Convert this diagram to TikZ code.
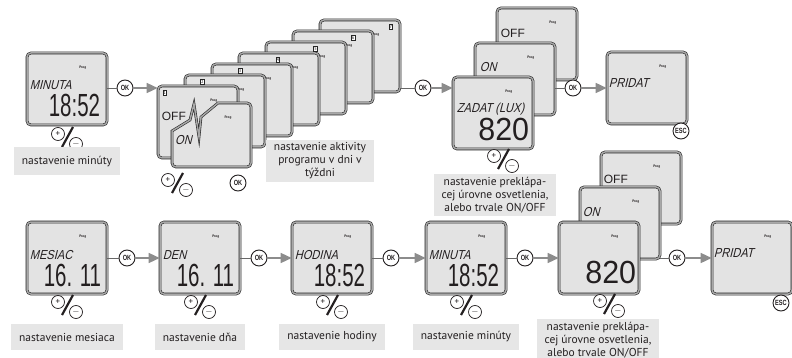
\documentclass[tikz,border=0pt]{standalone}
\usepackage{fontspec}
\usepackage{graphicx}
\setmainfont{PT Sans}
\newfontfamily\lcdfont{Liberation Sans}
\newfontfamily\lcdword{Liberation Sans}[FakeStretch=0.85,FakeSlant=0.25]
\newfontfamily\keyfont{Liberation Sans}[FakeStretch=0.75]
\usepackage{tikz}
\usetikzlibrary{positioning,arrows.meta,calc}
\definecolor{lcdfill}{HTML}{E3E3E3}
\definecolor{lcdedge}{HTML}{262626}
\definecolor{lcdband}{HTML}{A8A8A8}
\definecolor{capfill}{HTML}{E6E6E6}
\definecolor{flow}{HTML}{8C8C8C}
\definecolor{ink}{HTML}{231F20}

% one display, with its small "Prog" mark
\newcommand{\lcdbox}[2]{%
  \node[screen] (#1) at (#2) {};
  \node[prog] (#1-prog) at ($(#1.north west)+(56,15)$) {Prog};
}
% the +/- keys under a display
\newcommand{\pmkey}[2]{%
  \draw[line width=2.2pt, ink] ($(#2)+(-5,10)$) -- ($(#2)+(6,-10)$);
  \node[key] (#1-p) at ($(#2)+(-9,-3)$) {+};
  \node[key] (#1-m) at ($(#2)+(9,7)$) {$-$};
}
% narrow segment-like numbers
\newcommand{\lcdnum}[2][0.64]{\scalebox{#1}[1]{#2}}

\begin{document}
\begin{tikzpicture}[x=1pt, y=-1pt,
  every node/.style={text=ink},
  panel/.style={draw=lcdedge, double=lcdband, double distance=1.5pt, line width=0.6pt,
    fill=lcdfill, rounded corners=4pt},
  screen/.style={panel, minimum width=80pt, minimum height=72pt, inner sep=0pt},
  prog/.style={font=\bfseries\fontsize{3.5}{4}\selectfont, inner sep=0pt},
  daymark/.style={draw=lcdedge, fill=white, line width=0.5pt, inner sep=0.6pt,
    font=\fontsize{4.5}{4.5}\selectfont},
  word/.style={font=\lcdword\fontsize{13}{13}\selectfont, anchor=west, inner sep=0pt},
  lcdtext/.style={font=\lcdfont\fontsize{12}{12}\selectfont, anchor=west, inner sep=0pt},
  digits/.style={font=\lcdfont\fontsize{32}{32}\selectfont, anchor=east, inner sep=0pt},
  key/.style={circle, draw=ink, fill=white, line width=0.7pt, minimum size=13pt,
    inner sep=0pt, font=\fontsize{9}{9}\selectfont},
  okkey/.style={circle, draw=ink, fill=white, line width=0.9pt, minimum size=16pt,
    inner sep=0pt, font=\keyfont\bfseries\fontsize{7.5}{7.5}\selectfont},
  caption/.style={fill=capfill, font=\fontsize{11.5}{13}\selectfont, align=center,
    inner xsep=8pt, inner ysep=3pt},
  lead/.style={draw=lcdedge!70, line width=0.9pt},
  arrow/.style={draw=flow, line width=1.4pt, -{Triangle[length=11pt, width=10pt]}},
]
  \useasboundingbox (0,0) rectangle (792,358);

  % Top row: minute
  \lcdbox{tmin}{67,89}
  \node[word] (tmin-w) at ($(tmin.north west)+(3,32)$) {MINUTA};
  \node[digits] (tmin-d) at ($(tmin.north east)+(-7,53)$) {\lcdnum{18:52}};
  \pmkey{tmin-pm}{67,137}
  \node[okkey] (ok1) at (125,88) {OK};
  \node[caption, minimum height=28pt, below=22pt of tmin] (cap-tmin) {nastavenie minúty};

  % Stack of week days (7 at the back, 1 in front)
  \foreach \d in {7,6,...,1} {
    \pgfmathsetmacro\sx{198+27*(\d-1)}
    \pgfmathsetmacro\sy{122-11*(\d-1)}
    \lcdbox{day\d}{\sx,\sy}
    \node[daymark] (day\d-mark) at ($(day\d.north west)+({7+10.7*(\d-1)},7)$) {\d};
  }
  \node[lcdtext] (day1-w) at ($(day1.north west)+(4,31)$) {OFF};
  % torn ON panel over day 1
  \draw[panel] (172,150) [sharp corners] -- (172,131) -- (190,120) -- (194,104)
    -- (199,137) -- (201,117) -- (218,103) [rounded corners=4pt] -- (251,103)
    -- (251,167) -- (172,167) -- cycle;
  \node[prog] (tear-prog) at (228,118) {Prog};
  \node[word] (tear-w) at (175,140) {ON};
  \pmkey{days-pm}{177,183}
  \node[okkey] (ok-days) at (238,183) {OK};
  \node[caption] (cap-days) at (320,161) {nastavenie aktivity\\programu v dni v\\týždni};

  % Top row: light level, then add
  \lcdbox{toff}{537,44}
  \node[lcdtext] (toff-w) at ($(toff.north west)+(4,26)$) {OFF};
  \lcdbox{ton}{515,79}
  \node[word] (ton-w) at ($(ton.north west)+(5,24)$) {ON};
  \lcdbox{tlev}{493,113}
  \node[word] (tlev-w) at ($(tlev.north west)+(4,32)$) {ZADAT (LUX)};
  \node[digits] (tlev-d) at ($(tlev.north east)+(-4,53)$) {\lcdnum[0.95]{820}};
  \pmkey{tlev-pm}{503,159}
  \node[caption] (cap-tlev) at (495,195) {nastavenie preklápa-\\cej úrovne osvetlenia,\\alebo trvale ON/OFF};
  \node[okkey] (ok2) at (423,88) {OK};
  \node[okkey] (ok3) at (573,88) {OK};
  \lcdbox{tadd}{647,88}
  \node[word] (tadd-w) at ($(tadd.north west)+(2,31)$) {PRIDAT};
  \node[okkey] (tesc) at (681,131) {ESC};

  % Bottom row
  \lcdbox{bmon}{67,258}
  \node[word] (bmon-w) at ($(bmon.north west)+(3,33)$) {MESIAC};
  \node[digits] (bmon-d) at ($(bmon.north east)+(-6,54)$) {\lcdnum{16. 11}};
  \pmkey{bmon-pm}{67,305}
  \node[caption, minimum height=26pt] (cap-bmon) at (67,337) {nastavenie mesiaca};
  \node[okkey] (ok4) at (127,258) {OK};

  \lcdbox{bday}{200,258}
  \node[word] (bday-w) at ($(bday.north west)+(3,33)$) {DEN};
  \node[digits] (bday-d) at ($(bday.north east)+(-6,54)$) {\lcdnum{16. 11}};
  \pmkey{bday-pm}{200,305}
  \node[caption, minimum height=26pt] (cap-bday) at (200,337) {nastavenie dňa};
  \node[okkey] (ok5) at (259,258) {OK};

  \lcdbox{bhour}{332,258}
  \node[word] (bhour-w) at ($(bhour.north west)+(3,33)$) {HODINA};
  \node[digits] (bhour-d) at ($(bhour.north east)+(-7,54)$) {\lcdnum{18:52}};
  \pmkey{bhour-pm}{332,305}
  \node[caption, minimum height=26pt] (cap-bhour) at (332,337) {nastavenie hodiny};
  \node[okkey] (ok6) at (391,258) {OK};

  \lcdbox{bmin}{466,258}
  \node[word] (bmin-w) at ($(bmin.north west)+(3,33)$) {MINUTA};
  \node[digits] (bmin-d) at ($(bmin.north east)+(-7,54)$) {\lcdnum{18:52}};
  \pmkey{bmin-pm}{466,305}
  \node[caption, minimum height=26pt] (cap-bmin) at (466,337) {nastavenie minúty};
  \node[okkey] (ok7) at (525,258) {OK};

  \lcdbox{boff}{641,188}
  \node[lcdtext] (boff-w) at ($(boff.north west)+(3,28)$) {OFF};
  \lcdbox{bon}{620,223}
  \node[word] (bon-w) at ($(bon.north west)+(3,25)$) {ON};
  \lcdbox{blev}{599,258}
  \node[digits] (blev-d) at ($(blev.north east)+(-3,51)$) {\lcdnum[0.95]{820}};
  \pmkey{blev-pm}{609,304}
  \node[caption] (cap-blev) at (598,340) {nastavenie preklápa-\\cej úrovne osvetlenia,\\alebo trvale ON/OFF};
  \node[okkey] (ok8) at (677,258) {OK};

  \lcdbox{badd}{752,258}
  \node[word] (badd-w) at ($(badd.north west)+(2,31)$) {PRIDAT};
  \node[okkey] (besc) at (781,303) {ESC};

  % connectors
  \draw[lead] (tmin.east |- ok1) -- (ok1);
  \draw[arrow] (ok1) -- (ok1 -| day1.west);
  \draw[lead] (day7.east |- ok2) -- (ok2);
  \draw[arrow] (ok2) -- (ok2 -| tlev.west);
  \draw[lead] (ton.east |- ok3) -- (ok3);
  \draw[arrow] (ok3) -- (ok3 -| tadd.west);
  \draw[lead] (bmon.east |- ok4) -- (ok4);
  \draw[arrow] (ok4) -- (ok4 -| bday.west);
  \draw[lead] (bday.east |- ok5) -- (ok5);
  \draw[arrow] (ok5) -- (ok5 -| bhour.west);
  \draw[lead] (bhour.east |- ok6) -- (ok6);
  \draw[arrow] (ok6) -- (ok6 -| bmin.west);
  \draw[lead] (bmin.east |- ok7) -- (ok7);
  \draw[arrow] (ok7) -- (ok7 -| blev.west);
  \draw[lead] (bon.east |- ok8) -- (ok8);
  \draw[arrow] (ok8) -- (ok8 -| badd.west);
\end{tikzpicture}
\end{document}
